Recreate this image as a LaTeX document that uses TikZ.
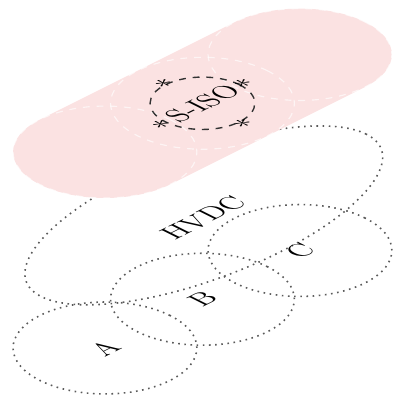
\documentclass[tikz,border=0pt]{standalone}
\usepackage{tikz}
\definecolor{layerpink}{RGB}{251,226,226}
\definecolor{dotgray}{RGB}{90,90,90}
\tikzset{
  plane/.style={cm={1,0.5,-1,0.5,(0,0)}},
  dotline/.style={draw=dotgray,dotted,line width=0.7pt},
  lbl/.style={transform shape,inner sep=0pt,font=\fontsize{11}{13}\selectfont},
  whitedash/.style={draw=white,dashed,line width=0.5pt,opacity=0.65},
  isodash/.style={draw=black!80,dashed,line width=0.6pt},
  starmark/.style={transform shape,inner sep=0pt,font=\fontsize{11}{13}\selectfont}
}
\begin{document}
\begin{tikzpicture}[x=1cm,y=1cm]
\useasboundingbox (0,0) rectangle (6.092,6.185);
% bottom layer
\begin{scope}[shift={(1.615,0.831)},plane]
  \draw[dotline] (2.8,1.28) ellipse [x radius=2.5,y radius=1.15];
  \draw[dotline] (0,0) circle [radius=1];
  \draw[dotline] (1.5,0) circle [radius=1];
  \draw[dotline] (3,0) circle [radius=1];
  \node[lbl] (hvdc) at (2.76,1.25) {HVDC};
  \node[lbl] (a) at (0,0) {A};
  \node[lbl] (b) at (1.5,0) {B};
  \node[lbl] (c) at (3,0) {C};
\end{scope}
% top layer
\begin{scope}[shift={(1.615,3.846)},plane]
  \fill[layerpink] (0,1) -- (3,1) arc [start angle=90,end angle=-90,radius=1]
     -- (0,-1) arc [start angle=270,end angle=90,radius=1] -- cycle;
  \draw[whitedash] (0,0) circle [radius=1];
  \draw[whitedash] (1.5,0) circle [radius=1];
  \draw[whitedash] (3,0) circle [radius=1];
  \draw[isodash] (1.5,0) circle [radius=0.57];
  \node[lbl] (siso) at (1.5,0) {S-ISO};
  \node[starmark] (s1) at (2.12,0) {$\ast$};
  \node[starmark] (s2) at (1.5,0.6) {$\ast$};
  \node[starmark] (s3) at (0.86,0) {$\ast$};
  \node[starmark] (s4) at (1.5,-0.62) {$\ast$};
\end{scope}
\end{tikzpicture}
\end{document}
